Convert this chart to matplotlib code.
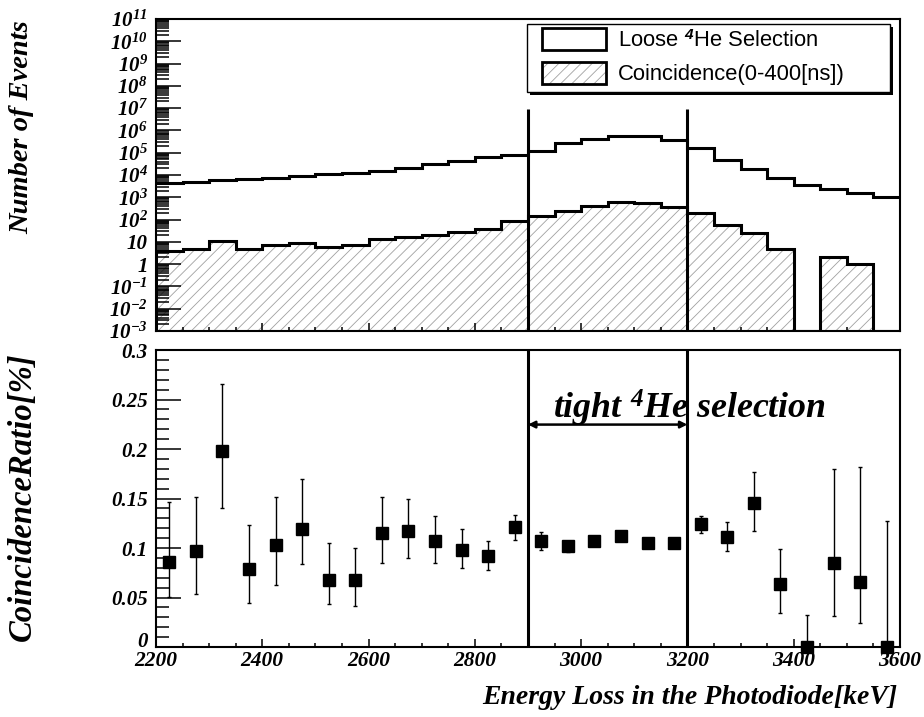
import numpy as np
import matplotlib
matplotlib.use('Agg')
import matplotlib.pyplot as plt
from matplotlib.patches import Patch, Rectangle
from matplotlib.ticker import LogLocator, MultipleLocator, NullFormatter

plt.rcParams['font.family'] = 'Liberation Serif'
plt.rcParams['font.weight'] = 'bold'
plt.rcParams['font.style'] = 'italic'
plt.rcParams['mathtext.fontset'] = 'custom'
plt.rcParams['mathtext.rm'] = 'Liberation Serif:italic:bold'
plt.rcParams['mathtext.it'] = 'Liberation Serif:italic:bold'
plt.rcParams['mathtext.bf'] = 'Liberation Serif:italic:bold'
plt.rcParams['mathtext.sf'] = 'Liberation Sans'
plt.rcParams['hatch.linewidth'] = 0.6

# energy binning [keV] and tight-selection window
bin_lo, bin_hi, bin_w = 2200, 3600, 50
cut_lo, cut_hi = 2900, 3200
cut_top = 9e6

# events per bin
loose = [4470, 5000, 5900, 6300, 7200, 8900, 10700, 12600, 15500, 21000,
         30000, 44000, 66000, 78000, 123000, 265000, 405000, 570000, 540000,
         355000, 156000, 47000, 18000, 7200, 3600, 2240, 1490, 1000]
coinc = [4, 5, 11, 5, 7, 9, 6, 7, 14, 17, 21, 27, 39, 85, 138, 233, 405,
         630, 550, 355, 190, 56, 26, 5, 0, 2, 1, 0]

# coincidence ratio [%] with lower / upper error bar ends
ratio = [0.086, 0.097, 0.198, 0.079, 0.1035, 0.119, 0.068, 0.068, 0.1156,
         0.1177, 0.1069, 0.0985, 0.092, 0.1213, 0.1072, 0.1021, 0.1069,
         0.1122, 0.1052, 0.1052, 0.124, 0.1116, 0.1456, 0.0634, 0.0, 0.085,
         0.0661, 0.0]
ratio_hi = [0.146, 0.1516, 0.266, 0.1237, 0.1516, 0.1695, 0.105, 0.0998,
            0.1516, 0.150, 0.1328, 0.1193, 0.1066, 0.1338, 0.1163, 0.1076,
            0.111, 0.116, 0.109, 0.109, 0.1328, 0.1264, 0.1769, 0.0991,
            0.0328, 0.1796, 0.182, 0.1278]
ratio_lo = [0.0506, 0.0533, 0.1405, 0.044, 0.0624, 0.0843, 0.0432, 0.0415,
            0.0853, 0.0904, 0.0846, 0.0803, 0.0776, 0.1086, 0.0985, 0.096,
            0.103, 0.108, 0.101, 0.101, 0.1153, 0.0968, 0.1173, 0.0348,
            0.0, 0.0311, 0.0247, 0.0]

log_ticks = [1e-3, 1e-2, 1e-1, 1, 10, 1e2, 1e3, 1e4, 1e5, 1e6, 1e7, 1e8,
             1e9, 1e10, 1e11]
log_labels = [r'$10^{-3}$', r'$10^{-2}$', r'$10^{-1}$', '1', '10',
              r'$10^{2}$', r'$10^{3}$', r'$10^{4}$', r'$10^{5}$', r'$10^{6}$',
              r'$10^{7}$', r'$10^{8}$', r'$10^{9}$', r'$10^{10}$', r'$10^{11}$']
ratio_ticks = [0, 0.05, 0.1, 0.15, 0.2, 0.25, 0.3]
ratio_labels = ['0', '0.05', '0.1', '0.15', '0.2', '0.25', '0.3']
energy_ticks = [2200, 2400, 2600, 2800, 3000, 3200, 3400, 3600]


def style_axis(ax):
    for sp in ax.spines.values():
        sp.set_linewidth(1.5)
    ax.tick_params(axis='both', which='both', direction='in', top=False,
                   right=False, width=1.1)
    ax.tick_params(axis='x', which='major', length=6)
    ax.tick_params(axis='x', which='minor', length=3)
    ax.tick_params(axis='y', which='major', length=18, pad=6)
    ax.tick_params(axis='y', which='minor', length=9)
    ax.xaxis.set_minor_locator(MultipleLocator(bin_w))


def px_box(fig, x0, y0, x1, y1):
    # figure-fraction box from pixel corners (origin top-left)
    w, h = fig.bbox.width, fig.bbox.height
    return x0 / w, 1 - y1 / h, (x1 - x0) / w, (y1 - y0) / h


def main():
    edges = np.arange(bin_lo, bin_hi + bin_w, bin_w)
    centers = edges[:-1] + bin_w / 2
    floor = log_ticks[0]

    fig = plt.figure(figsize=(9.24, 7.17), dpi=100)
    ax1 = fig.add_axes([0.1688, 0.5384, 0.8052, 0.4351])
    ax2 = fig.add_axes([0.1688, 0.0976, 0.8052, 0.4142])

    # --- upper panel: event counts
    cvals = np.maximum(np.array(coinc, dtype=float), floor)
    ax1.stairs(cvals, edges, baseline=floor, fill=True, facecolor='none',
               edgecolor='#a0a0a0', hatch='///', linewidth=0)
    ax1.stairs(cvals, edges, baseline=floor, color='black', linewidth=2.2)
    ax1.stairs(loose, edges, baseline=None, color='black', linewidth=2.2)
    ax1.vlines([cut_lo, cut_hi], floor, cut_top, color='black', linewidth=2.2)

    ax1.set_yscale('log')
    ax1.set_xlim(bin_lo, bin_hi)
    ax1.set_ylim(log_ticks[0], log_ticks[-1])
    style_axis(ax1)
    ax1.set_yticks(log_ticks, log_labels, fontsize=15)
    ax1.yaxis.set_minor_locator(LogLocator(base=10, subs=np.arange(2, 10), numticks=50))
    ax1.yaxis.set_minor_formatter(NullFormatter())
    ax1.set_xticks(energy_ticks)
    ax1.tick_params(axis='x', labelbottom=False)

    # legend box with a solid drop shadow
    x, y, w, h = px_box(fig, 527, 24, 890, 92)
    dx, dy = 3 / fig.bbox.width, 3 / fig.bbox.height
    ax1.add_patch(Rectangle((x + dx, y - dy), w, h, transform=fig.transFigure,
                            facecolor='black', edgecolor='none', clip_on=False,
                            zorder=8))
    ax1.add_patch(Rectangle((x, y), w, h, transform=fig.transFigure,
                            facecolor='white', edgecolor='black', linewidth=1.0,
                            clip_on=False, zorder=9))

    h_loose = Patch(facecolor='white', edgecolor='black', linewidth=2)
    h_coinc = (Patch(facecolor='white', edgecolor='#a0a0a0', hatch='///', linewidth=0),
               Patch(fill=False, edgecolor='black', linewidth=2))
    leg = ax1.legend([h_loose, h_coinc],
                     [r'Loose $^{\mathsf{4}}$He Selection', 'Coincidence(0-400[ns])'],
                     loc='upper left', bbox_to_anchor=(542 / 924, 1 - 28 / 717),
                     bbox_transform=fig.transFigure, borderaxespad=0,
                     prop={'family': 'Liberation Sans', 'style': 'normal',
                           'weight': 'normal', 'size': 15.8},
                     handlelength=2.9, handleheight=1.2, handletextpad=0.55,
                     labelspacing=0.45, borderpad=0, frameon=False)
    leg.set_zorder(10)

    # --- lower panel: coincidence ratio
    r = np.array(ratio)
    yerr = [r - np.array(ratio_lo), np.array(ratio_hi) - r]
    ax2.errorbar(centers, r, yerr=yerr, fmt='s', color='black', markersize=8.5,
                 elinewidth=1.0, capsize=1.6, capthick=1.0, clip_on=False,
                 zorder=5)
    ax2.vlines([cut_lo, cut_hi], ratio_ticks[0], ratio_ticks[-1], color='black',
               linewidth=2.2)
    ax2.annotate('', xy=(cut_lo, 0.2247), xytext=(cut_hi, 0.2247),
                 arrowprops=dict(arrowstyle='<|-|>', color='black', lw=1.8,
                                 mutation_scale=10, shrinkA=0, shrinkB=0))
    ax2.text(2947, 0.2308, r'tight $^{4}$He selection', fontsize=25.8,
             ha='left', va='baseline')

    ax2.set_xlim(bin_lo, bin_hi)
    ax2.set_ylim(ratio_ticks[0], ratio_ticks[-1])
    style_axis(ax2)
    ax2.yaxis.set_minor_locator(MultipleLocator(0.01))
    ax2.set_yticks(ratio_ticks, ratio_labels, fontsize=15)
    ax2.set_xticks(energy_ticks, [str(t) for t in energy_ticks], fontsize=15.5)
    ax2.tick_params(axis='x', pad=3)
    # zero label sits on its baseline, clear of the energy labels
    ax2.get_yticklabels()[0].set_verticalalignment('baseline')

    fig.text(22 / 924, 1 - 20 / 717, 'Number of Events', rotation=90,
             ha='center', va='top', fontsize=20.5)
    fig.text(22 / 924, 1 - 352 / 717, 'CoincidenceRatio[%]', rotation=90,
             ha='center', va='top', fontsize=23.5)
    fig.text(897 / 924, 1 - 704 / 717, 'Energy Loss in the Photodiode[keV]',
             ha='right', va='baseline', fontsize=20)

    fig.savefig('out.png', dpi=100)


if __name__ == "__main__":
    main()
